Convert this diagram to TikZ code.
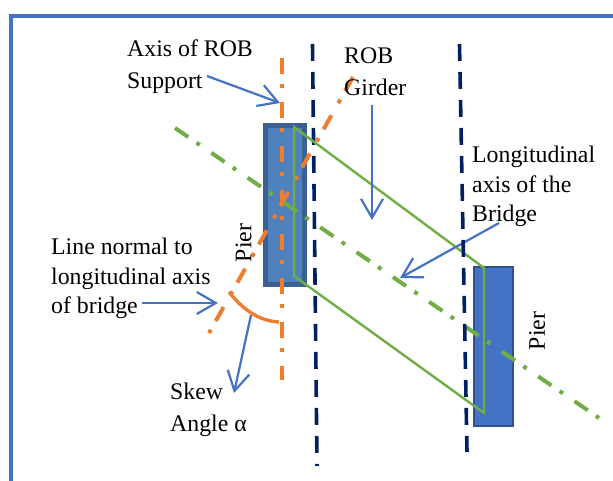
\documentclass[tikz,border=0pt]{standalone}
\usepackage{fontspec}
\setmainfont{Liberation Serif}
\usetikzlibrary{arrows.meta}
\definecolor{frameblue}{HTML}{4472C4}
\definecolor{axisorange}{HTML}{ED7D31}
\definecolor{axisgreen}{HTML}{70AD47}
\definecolor{navyline}{HTML}{002060}
\definecolor{pierAfill}{HTML}{4F81BD}
\definecolor{pierAline}{HTML}{3B6194}
\definecolor{pierBline}{HTML}{2F528F}
\tikzset{
  dashdotline/.style={line width=4pt,dash pattern=on 16pt off 10pt on 4pt off 14pt},
  orangeaxis/.style={dashdotline,draw=axisorange},
  greenaxis/.style={dashdotline,draw=axisgreen},
  navydash/.style={draw=navyline,line width=3.6pt,dash pattern=on 17pt off 11pt},
  pointer/.style={draw=frameblue,line width=2.2pt,-{Straight Barb[length=19pt,width=22pt,line width=2.2pt]}},
  girderedge/.style={draw=axisgreen,line width=2.4pt,line join=miter},
  pierA/.style={draw=pierAline,fill=pierAfill,line width=5pt,minimum width=39pt,minimum height=159pt,inner sep=0pt},
  pierB/.style={draw=pierBline,fill=frameblue,line width=2.4pt,minimum width=38.6pt,minimum height=158.6pt,inner sep=0pt},
  label/.style={inner sep=0pt,anchor=north west,align=left,text=black},
  labelwide/.style={label,font=\fontsize{23.8pt}{32pt}\selectfont},
  labeltight/.style={label,font=\fontsize{23.8pt}{29.3pt}\selectfont},
  pierlabel/.style={inner sep=0pt,font=\fontsize{23.8pt}{30pt}\selectfont,rotate=90},
}
\begin{document}
\begin{tikzpicture}[x=1pt,y=-1pt]
\useasboundingbox (0,0) rectangle (613,481);
% frame
\draw[draw=frameblue,line width=4pt] (11,481) -- (11,16) -- (613,16);
% piers
\node[pierA] (pa) at (285,205) {};
\node[pierB] (pb) at (493.5,346.5) {};
% navy lines
\coordinate (n1a) at (312.5,44); \coordinate (n1b) at (317,466);
\coordinate (n2a) at (459.5,44); \coordinate (n2b) at (467,452);
\draw[navydash] (n1a) -- (n1b);
% orange axes
\coordinate (oa) at (281.5,58); \coordinate (ob) at (281.5,380);
\coordinate (sa) at (353,77); \coordinate (sb) at (209,333);
\draw[orangeaxis] (oa) -- (ob);
\draw[orangeaxis] (sa) -- (sb);
% skew arc
\coordinate (arcA) at (229,292); \coordinate (arcB) at (279,322);
\draw[draw=axisorange,line width=3.4pt] (arcA) .. controls (244,311) and (260,321) .. (arcB);
% girder
\coordinate (g1) at (294,127); \coordinate (g2) at (484,268);
\coordinate (g3) at (484,413); \coordinate (g4) at (294,276);
\draw[girderedge] (g1) -- (g2) -- (g3) -- (g4) -- cycle;
% longitudinal axis
\coordinate (la) at (175,128); \coordinate (lb) at (599,418);
\draw[greenaxis] (la) -- (lb);
% labels
\node[labelwide] (tAxis) at (127,40) {Axis of ROB\\Support};
\node[labelwide] (tGirder) at (344,48) {ROB\\Girder};
\node[labeltight] (tLong) at (472,146) {Longitudinal\\axis of the\\Bridge};
\node[labeltight] (tNormal) at (51,238) {Line normal to\\longitudinal axis\\of bridge};
\node[labelwide] (tSkew) at (170,383) {Skew\\Angle α};
\node[pierlabel] (tPierA) at (243.5,243) {Pier};
\node[pierlabel] (tPierB) at (537,331) {Pier};
% pointers
\coordinate (p1a) at (207,76);  \coordinate (p1b) at (280,103);
\coordinate (p2a) at (372,105); \coordinate (p2b) at (372,220);
\coordinate (p3a) at (499,223); \coordinate (p3b) at (400,278);
\coordinate (p4a) at (142,303); \coordinate (p4b) at (218,303);
\coordinate (p5a) at (251,315); \coordinate (p5b) at (234,393);
\draw[pointer] (p1a) -- (p1b);
\draw[pointer] (p2a) -- (p2b);
\draw[pointer] (p3a) -- (p3b);
\draw[pointer] (p4a) -- (p4b);
\draw[pointer] (p5a) -- (p5b);
\draw[navydash] (n2a) -- (n2b);
\end{tikzpicture}
\end{document}
